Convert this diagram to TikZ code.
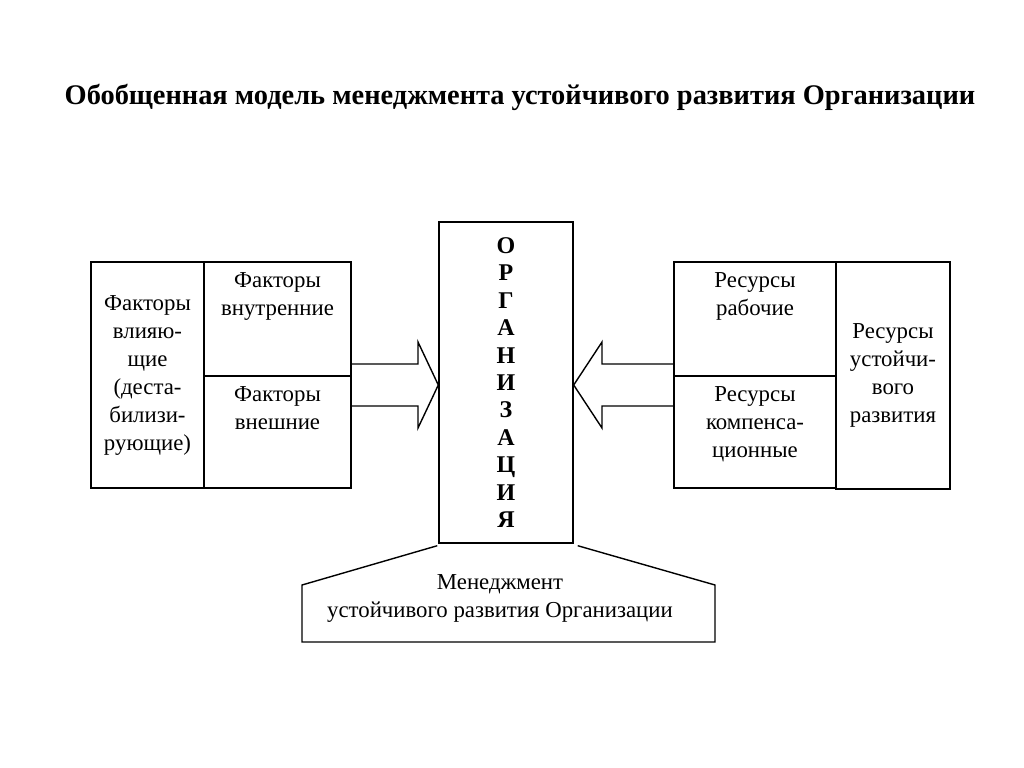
\documentclass[tikz,border=0pt]{standalone}
\usepackage{fontspec}
\setmainfont{Liberation Serif}
\usetikzlibrary{calc}

\tikzset{
	box/.style={draw, line width=0.7pt},
	inlabel/.style={anchor=north, align=center, yshift=-5.5pt, inner sep=0pt},
}

\begin{document}
\begin{tikzpicture}[x=0.5pt, y=-0.5pt, font=\fontsize{11.4}{14}\selectfont]
	\useasboundingbox (0,0) rectangle (1024,767);

	\node[font=\fontsize{14.2}{17}\selectfont\bfseries] (title) at (520,97) {Обобщенная модель менеджмента устойчивого развития Организации};

	% left block
	\node[box, minimum width=56.5pt, minimum height=113pt, align=center] (fvl) at (147.5,375) {Факторы\\влияю-\\щие\\(деста-\\билизи-\\рующие)};
	\node[box, minimum width=73.5pt, minimum height=57pt, label={[inlabel]north:Факторы\\внутренние}] (fvn) at (277.5,319) {};
	\node[box, minimum width=73.5pt, minimum height=56pt, label={[inlabel]north:Факторы\\внешние}] (fvsh) at (277.5,432) {};

	% organisation
	\node[box, minimum width=67pt, minimum height=160.5pt, align=center, font=\fontsize{12}{13.7}\selectfont\bfseries] (org) at (506,382.5) {О\\Р\\Г\\А\\Н\\И\\З\\А\\Ц\\И\\Я};

	% right block
	\node[box, minimum width=81pt, minimum height=57pt, label={[inlabel]north:Ресурсы\\рабочие}] (rrab) at (755,319) {};
	\node[box, minimum width=81pt, minimum height=56pt, label={[inlabel]north:Ресурсы\\компенса-\\ционные}] (rkomp) at (755,432) {};
	\node[box, minimum width=57pt, minimum height=113.5pt, align=center] (rust) at (893,375.5) {Ресурсы\\устойчи-\\вого\\развития};

	% block arrows
	\draw[box] (fvn.east |- 0,364) -- (418,364) -- (418,342) -- (org.west |- 0,385) -- (418,428) -- (418,406) -- (fvsh.east |- 0,406);
	\draw[box] (rrab.west |- 0,364) -- (602,364) -- (602,342) -- (org.east |- 0,385) -- (602,428) -- (602,406) -- (rkomp.west |- 0,406);

	% management
	\node[align=center] (mgmt) at (500,598) {Менеджмент\\устойчивого развития Организации};
	\draw[box] ($(org.south west)+(-1,2)$) -- (302,585) -- (302,642) -- (715,642) -- (715,585) -- ($(org.south east)+(4,2)$);
\end{tikzpicture}
\end{document}
